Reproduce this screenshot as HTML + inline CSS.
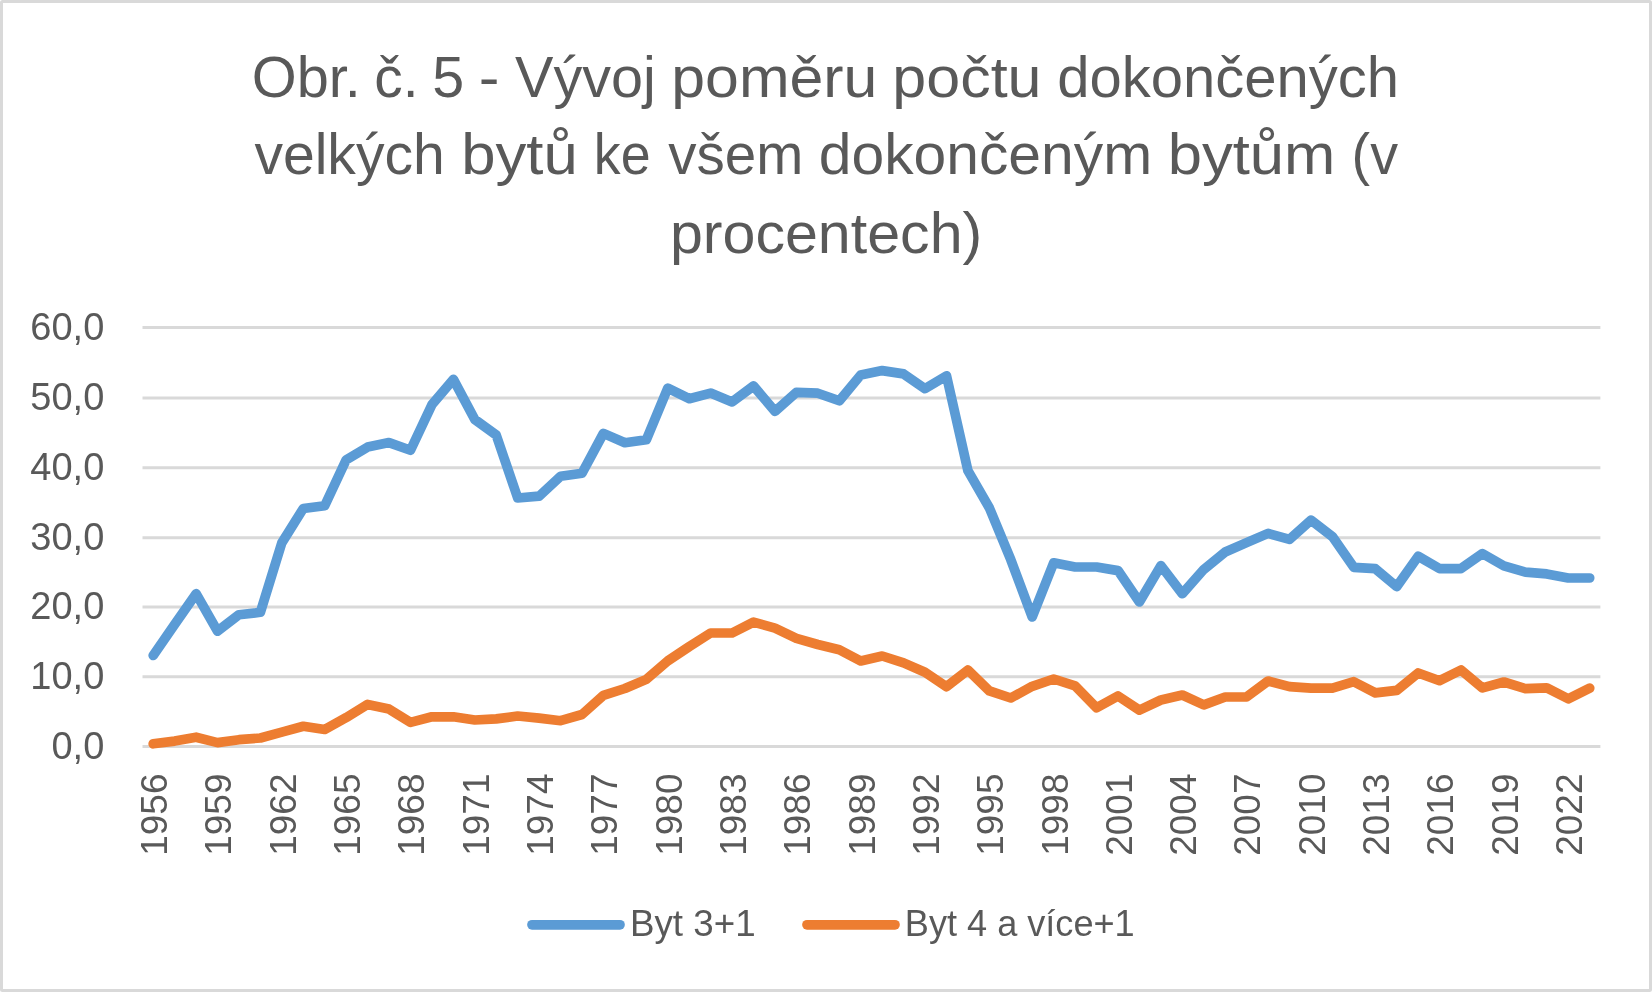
<!DOCTYPE html>
<html lang="cs"><head><meta charset="utf-8"><title>Obr. č. 5</title>
<style>
html,body{margin:0;padding:0;background:#fff;overflow:hidden}
svg{display:block;will-change:transform}
text{font-family:"Liberation Sans",Arial,sans-serif;fill:#595959}
</style></head><body>
<svg width="1652" height="992" viewBox="0 0 1652 992">
<rect x="1.5" y="1.5" width="1649" height="989" rx="1" fill="#fff" stroke="#d9d9d9" stroke-width="3"/>
<text x="251.8" y="96.5" font-size="58" textLength="109.1" lengthAdjust="spacingAndGlyphs">Obr.</text>
<text x="374.2" y="96.5" font-size="58" textLength="44.3" lengthAdjust="spacingAndGlyphs">č.</text>
<text x="432.2" y="96.5" font-size="58" textLength="31.9" lengthAdjust="spacingAndGlyphs">5</text>
<text x="478.8" y="96.5" font-size="58" textLength="20.7" lengthAdjust="spacingAndGlyphs">-</text>
<text x="515.1" y="96.5" font-size="58" textLength="140.7" lengthAdjust="spacingAndGlyphs">Vývoj</text>
<text x="671.3" y="96.5" font-size="58" textLength="206.1" lengthAdjust="spacingAndGlyphs">poměru</text>
<text x="892.3" y="96.5" font-size="58" textLength="149.2" lengthAdjust="spacingAndGlyphs">počtu</text>
<text x="1057.2" y="96.5" font-size="58" textLength="341.8" lengthAdjust="spacingAndGlyphs">dokončených</text>
<text x="254.4" y="174.3" font-size="58" textLength="190.3" lengthAdjust="spacingAndGlyphs">velkých</text>
<text x="461.2" y="174.3" font-size="58" textLength="116.6" lengthAdjust="spacingAndGlyphs">bytů</text>
<text x="593.8" y="174.3" font-size="58" textLength="56.7" lengthAdjust="spacingAndGlyphs">ke</text>
<text x="668.3" y="174.3" font-size="58" textLength="135.0" lengthAdjust="spacingAndGlyphs">všem</text>
<text x="818.8" y="174.3" font-size="58" textLength="333.3" lengthAdjust="spacingAndGlyphs">dokončeným</text>
<text x="1167.7" y="174.3" font-size="58" textLength="167.7" lengthAdjust="spacingAndGlyphs">bytům</text>
<text x="1351.6" y="174.3" font-size="58" textLength="46.4" lengthAdjust="spacingAndGlyphs">(v</text>
<text x="669.9" y="252.8" font-size="58" textLength="312.4" lengthAdjust="spacingAndGlyphs">procentech)</text>
<line x1="142.5" y1="746.50" x2="1600.4" y2="746.50" stroke="#d9d9d9" stroke-width="3"/>
<line x1="142.5" y1="676.70" x2="1600.4" y2="676.70" stroke="#d9d9d9" stroke-width="3"/>
<line x1="142.5" y1="607.10" x2="1600.4" y2="607.10" stroke="#d9d9d9" stroke-width="3"/>
<line x1="142.5" y1="537.70" x2="1600.4" y2="537.70" stroke="#d9d9d9" stroke-width="3"/>
<line x1="142.5" y1="467.70" x2="1600.4" y2="467.70" stroke="#d9d9d9" stroke-width="3"/>
<line x1="142.5" y1="397.90" x2="1600.4" y2="397.90" stroke="#d9d9d9" stroke-width="3"/>
<line x1="142.5" y1="327.50" x2="1600.4" y2="327.50" stroke="#d9d9d9" stroke-width="3"/>
<text x="104.3" y="758.6" font-size="38" text-anchor="end">0,0</text>
<text x="104.3" y="688.8" font-size="38" text-anchor="end">10,0</text>
<text x="104.3" y="619.2" font-size="38" text-anchor="end">20,0</text>
<text x="104.3" y="549.8" font-size="38" text-anchor="end">30,0</text>
<text x="104.3" y="479.8" font-size="38" text-anchor="end">40,0</text>
<text x="104.3" y="410.0" font-size="38" text-anchor="end">50,0</text>
<text x="104.3" y="339.6" font-size="38" text-anchor="end">60,0</text>
<text transform="translate(167.0,773.5) rotate(-90)" font-size="37" text-anchor="end">1956</text>
<text transform="translate(231.3,773.5) rotate(-90)" font-size="37" text-anchor="end">1959</text>
<text transform="translate(295.6,773.5) rotate(-90)" font-size="37" text-anchor="end">1962</text>
<text transform="translate(360.0,773.5) rotate(-90)" font-size="37" text-anchor="end">1965</text>
<text transform="translate(424.3,773.5) rotate(-90)" font-size="37" text-anchor="end">1968</text>
<text transform="translate(488.6,773.5) rotate(-90)" font-size="37" text-anchor="end">1971</text>
<text transform="translate(552.9,773.5) rotate(-90)" font-size="37" text-anchor="end">1974</text>
<text transform="translate(617.2,773.5) rotate(-90)" font-size="37" text-anchor="end">1977</text>
<text transform="translate(681.6,773.5) rotate(-90)" font-size="37" text-anchor="end">1980</text>
<text transform="translate(745.9,773.5) rotate(-90)" font-size="37" text-anchor="end">1983</text>
<text transform="translate(810.2,773.5) rotate(-90)" font-size="37" text-anchor="end">1986</text>
<text transform="translate(874.5,773.5) rotate(-90)" font-size="37" text-anchor="end">1989</text>
<text transform="translate(938.8,773.5) rotate(-90)" font-size="37" text-anchor="end">1992</text>
<text transform="translate(1003.2,773.5) rotate(-90)" font-size="37" text-anchor="end">1995</text>
<text transform="translate(1067.5,773.5) rotate(-90)" font-size="37" text-anchor="end">1998</text>
<text transform="translate(1131.8,773.5) rotate(-90)" font-size="37" text-anchor="end">2001</text>
<text transform="translate(1196.1,773.5) rotate(-90)" font-size="37" text-anchor="end">2004</text>
<text transform="translate(1260.4,773.5) rotate(-90)" font-size="37" text-anchor="end">2007</text>
<text transform="translate(1324.8,773.5) rotate(-90)" font-size="37" text-anchor="end">2010</text>
<text transform="translate(1389.1,773.5) rotate(-90)" font-size="37" text-anchor="end">2013</text>
<text transform="translate(1453.4,773.5) rotate(-90)" font-size="37" text-anchor="end">2016</text>
<text transform="translate(1517.7,773.5) rotate(-90)" font-size="37" text-anchor="end">2019</text>
<text transform="translate(1582.0,773.5) rotate(-90)" font-size="37" text-anchor="end">2022</text>
<polyline points="153.2,655.5 174.6,624.5 196.1,593.7 217.5,631.2 239.0,614.7 260.4,612.3 281.8,542.9 303.3,508.5 324.7,505.8 346.2,459.8 367.6,447.1 389.0,442.6 410.5,450.3 431.9,404.7 453.4,379.4 474.8,419.5 496.2,435.0 517.7,498.0 539.1,496.2 560.6,476.3 582.0,473.2 603.4,433.4 624.9,442.7 646.3,439.8 667.8,388.2 689.2,398.7 710.6,393.1 732.1,401.9 753.5,386.0 775.0,411.3 796.4,392.3 817.8,393.2 839.3,400.8 860.7,375.0 882.2,370.6 903.6,373.9 925.0,388.7 946.5,375.8 967.9,470.6 989.4,508.0 1010.8,559.7 1032.2,617.0 1053.7,562.8 1075.1,567.0 1096.6,567.0 1118.0,570.6 1139.4,602.0 1160.9,565.6 1182.3,593.7 1203.8,569.4 1225.2,552.0 1246.6,542.6 1268.1,533.4 1289.5,539.4 1311.0,520.2 1332.4,536.6 1353.8,567.3 1375.3,568.7 1396.7,586.6 1418.2,556.2 1439.6,568.6 1461.0,568.6 1482.5,553.6 1503.9,565.9 1525.4,572.2 1546.8,573.9 1568.2,578.0 1589.7,578.0" fill="none" stroke="#5b9bd5" stroke-width="9.7" stroke-linejoin="round" stroke-linecap="round"/>
<polyline points="153.2,743.8 174.6,741.1 196.1,737.2 217.5,742.6 239.0,739.7 260.4,738.0 281.8,732.1 303.3,726.3 324.7,729.5 346.2,717.6 367.6,704.4 389.0,709.1 410.5,722.4 431.9,716.8 453.4,716.8 474.8,720.0 496.2,718.9 517.7,716.0 539.1,718.1 560.6,720.7 582.0,714.5 603.4,695.4 624.9,688.5 646.3,679.4 667.8,660.9 689.2,646.6 710.6,633.0 732.1,633.0 753.5,622.1 775.0,628.2 796.4,638.3 817.8,644.5 839.3,649.8 860.7,661.0 882.2,656.0 903.6,662.9 925.0,672.3 946.5,686.7 967.9,670.1 989.4,690.9 1010.8,698.0 1032.2,686.3 1053.7,679.0 1075.1,685.9 1096.6,707.8 1118.0,696.0 1139.4,710.1 1160.9,700.0 1182.3,695.0 1203.8,704.9 1225.2,697.0 1246.6,696.9 1268.1,681.0 1289.5,686.6 1311.0,688.1 1332.4,688.1 1353.8,681.7 1375.3,692.9 1396.7,690.4 1418.2,673.0 1439.6,680.7 1461.0,670.0 1482.5,687.9 1503.9,682.0 1525.4,688.7 1546.8,687.9 1568.2,698.8 1589.7,688.1" fill="none" stroke="#ed7d31" stroke-width="9.7" stroke-linejoin="round" stroke-linecap="round"/>
<line x1="532" y1="924.8" x2="620" y2="924.8" stroke="#5b9bd5" stroke-width="9.7" stroke-linecap="round"/>
<text x="630" y="936.2" font-size="37" textLength="125.6" lengthAdjust="spacingAndGlyphs">Byt 3+1</text>
<line x1="807" y1="924.8" x2="895" y2="924.8" stroke="#ed7d31" stroke-width="9.7" stroke-linecap="round"/>
<text x="904.8" y="935.5" font-size="37" textLength="229.9" lengthAdjust="spacingAndGlyphs">Byt 4 a více+1</text>
</svg>
</body></html>
